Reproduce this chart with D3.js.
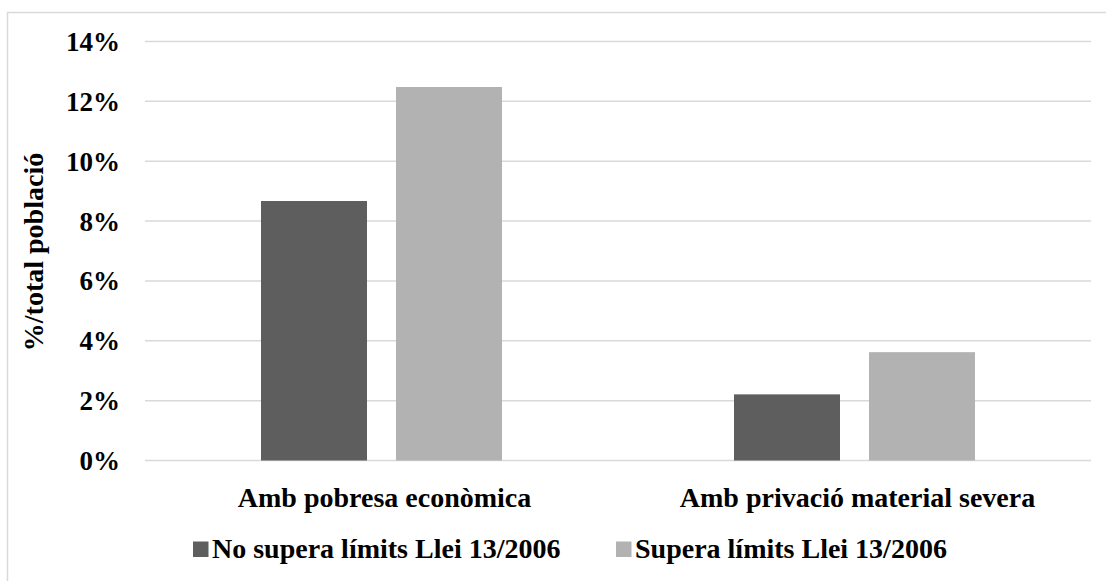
<!DOCTYPE html>
<html><head><meta charset="utf-8">
<script src="https://cdn.jsdelivr.net/npm/d3@7"></script>
</head><body style="margin:0;background:#fff">
<svg id="c" width="1106" height="581" style="display:block"></svg>
<script>
const categories = ["Amb pobresa econòmica", "Amb privació material severa"];
const seriesNames = ["No supera límits Llei 13/2006", "Supera límits Llei 13/2006"];
const noSupera = [8.67, 2.21];
const supera = [12.48, 3.62];
const yTicks = [0, 2, 4, 6, 8, 10, 12, 14];
const colors = ["#5e5e5e", "#b2b2b2"];

(function(){
const FF = "Liberation Serif";
const svg = d3.select("#c");
svg.append("rect").attr("x",7.5).attr("y",12.5).attr("width",1110).attr("height",600)
  .attr("fill","#fff").attr("stroke","#d9d9d9").attr("stroke-width",1.5);

const pL = 145, pR = 1091, pT = 41.5, pB = 460.5;
const x = d3.scaleBand().domain(categories).range([pL, pR]);
const y = d3.scaleLinear().domain([0, 14]).range([pB, pT]);

const barW = 106, gap = 29;
const xs = d3.scaleBand().domain(seriesNames).range([0, 2*barW+gap]).paddingInner(gap/(barW+gap)).paddingOuter(0);

svg.append("g").selectAll("line").data(yTicks).join("line")
  .attr("x1", pL).attr("x2", pR)
  .attr("y1", d => y(d)).attr("y2", d => y(d))
  .attr("stroke", "#d9d9d9").attr("stroke-width", 1.5);

const tg = svg.append("g").attr("font-family", FF).attr("font-weight", "bold");

tg.append("g").selectAll("text").data(yTicks).join("text")
  .attr("x", 120).attr("y", d => y(d)).attr("dy", "0.35em")
  .attr("text-anchor", "end").attr("font-family", FF).attr("font-weight", "bold").attr("font-size", 27)
  .text(d => d + "%");

const series = [noSupera, supera];
series.forEach((vals, si) => {
  svg.append("g").selectAll("rect").data(vals).join("rect")
    .attr("x", (d, i) => x(categories[i]) + x.bandwidth()/2 - (2*barW+gap)/2 + xs(seriesNames[si]))
    .attr("width", xs.bandwidth())
    .attr("y", d => y(d))
    .attr("height", d => y(0) - y(d))
    .attr("fill", colors[si]);
});

tg.append("g").selectAll("text").data(categories).join("text")
  .attr("x", d => x(d) + x.bandwidth()/2 + 3).attr("y", 507)
  .attr("text-anchor", "middle").attr("font-family", FF).attr("font-weight", "bold").attr("font-size", 28)
  .text(d => d);

tg.append("text").attr("transform", "translate(43,252) rotate(-90)")
  .attr("text-anchor", "middle").attr("font-family", FF).attr("font-weight", "bold").attr("font-size", 28)
  .text("%/total població");

const legX = [193, 616];
seriesNames.forEach((n, i) => {
  svg.append("rect").attr("x", legX[i]).attr("y", 541.5).attr("width", 15.5).attr("height", 15.5).attr("fill", colors[i]);
  tg.append("text").attr("x", legX[i] + 19).attr("y", 557.5).attr("font-family", FF).attr("font-weight", "bold").attr("font-size", 28).text(n);
});

svg.selectAll("text").each(function(){ this.getComputedTextLength(); });
})();
</script>
</body></html>
